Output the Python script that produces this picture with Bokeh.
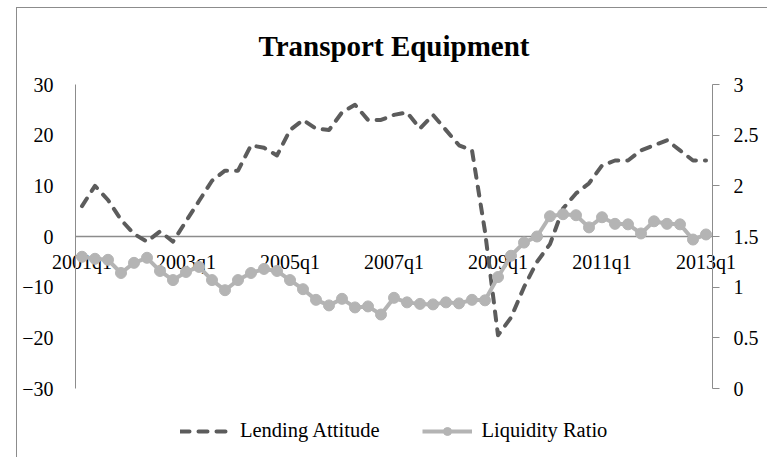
from bokeh.plotting import figure
from bokeh.models import (Range1d, LinearAxis, FixedTicker, NumeralTickFormatter, Span,
                          Legend, LegendItem, ColumnDataSource)
from bokeh.core.properties import value
from bokeh.embed import file_html
from bokeh.resources import INLINE

# ---- data ----
title_text = "Transport Equipment"
quarters = [f"{y}q{q}" for y in range(2001, 2014) for q in range(1, 5)][:49]
lending_attitude = [6, 10, 7.2, 3.3, 0.5, -1, 1, -1, 3, 7, 11, 13, 13, 18, 17.5, 16, 21, 23,
                    21.3, 21, 24.5, 26, 23, 23, 24, 24.5, 21.3, 24, 21, 18, 17, 1, -19.5,
                    -16, -10, -5, -1.5, 5.5, 8.5, 10.5, 14, 15, 15, 17, 18, 19, 17, 15, 15]
liquidity_ratio = [1.30, 1.28, 1.27, 1.14, 1.24, 1.29, 1.16, 1.07, 1.15, 1.20, 1.07, 0.97,
                   1.07, 1.14, 1.18, 1.16, 1.07, 0.98, 0.875, 0.82, 0.885, 0.80, 0.81, 0.73,
                   0.895, 0.85, 0.835, 0.83, 0.85, 0.84, 0.875, 0.87, 1.10, 1.31, 1.44, 1.50,
                   1.70, 1.72, 1.71, 1.59, 1.69, 1.625, 1.62, 1.53, 1.65, 1.625, 1.62, 1.47, 1.52]
tick_labels = ["2001q1", "2003q1", "2005q1", "2007q1", "2009q1", "2011q1", "2013q1"]
left_ticks = [-30, -20, -10, 0, 10, 20, 30]
right_ticks = [0, 0.5, 1, 1.5, 2, 2.5, 3]
left_lim = (-30, 30)
right_lim = (0, 3)

FONT = "Liberation Serif"
DARK = "#5c5c5c"
LIGHT = "#b4b4b4"
AXIS = "#8c8c8c"

# ---- layout geometry (pixels) ----
W, H = 751, 450
ML, MT, MB = 58, 2, 2
AXIS_TOP = 76                   # canvas y of the axes' top end
AXIS_H = 304                    # pixel height of the axes span
TITLE_MID = 37                  # canvas y of the title's middle
frame_h = H - MT - MB
top_px = AXIS_TOP - MT
bot_px = frame_h - AXIS_H - top_px


def ext_range(lim):
    span = lim[1] - lim[0]
    return Range1d(lim[0] - span * bot_px / AXIS_H, lim[1] + span * top_px / AXIS_H)


left_range = ext_range(left_lim)
right_range = ext_range(right_lim)
title_y = left_lim[1] + (left_lim[1] - left_lim[0]) * (AXIS_TOP - TITLE_MID) / AXIS_H

idx = list(range(len(quarters)))
src = ColumnDataSource(dict(x=idx, q=quarters, la=lending_attitude, lr=liquidity_ratio))

p = figure(width=W, height=H, output_backend="svg", toolbar_location=None,
           x_range=Range1d(-0.5, len(quarters) - 0.5), y_range=left_range,
           x_axis_location=None, min_border_left=ML, min_border_right=W - ML - 637,
           min_border_top=MT, min_border_bottom=MB)
p.styles = {"margin-left": "16px", "margin-top": "7px",
            "border-left": "1px solid #8c8c8c", "border-top": "1px solid #8c8c8c"}
p.extra_y_ranges = {"liq": right_range}
p.grid.grid_line_color = None
p.outline_line_color = None

# title
tt = p.text(x=[(len(quarters) - 1) / 2], y=[title_y], text=[title_text],
            text_font=value(FONT), text_font_size=value("29px"), text_font_style="bold",
            text_align="center", text_baseline="middle", text_color="black")
tt.level = "annotation"

# left axis
ya = p.yaxis[0]
ya.ticker = FixedTicker(ticks=left_ticks)
ya.bounds = left_lim
ya.axis_line_color = AXIS
ya.major_tick_line_color = None
ya.minor_tick_line_color = None
ya.major_label_standoff = 16
ya.major_label_text_font = FONT
ya.major_label_text_font_size = "20px"
ya.major_label_text_color = "black"

# right axis
ra = LinearAxis(y_range_name="liq", ticker=FixedTicker(ticks=right_ticks),
                formatter=NumeralTickFormatter(format="0.[0]"), bounds=right_lim)
ra.axis_line_color = AXIS
ra.major_tick_line_color = AXIS
ra.major_tick_in = 0
ra.major_tick_out = 7
ra.minor_tick_line_color = None
ra.major_label_standoff = 14
ra.major_label_text_font = FONT
ra.major_label_text_font_size = "20px"
ra.major_label_text_color = "black"
p.add_layout(ra, "right")

# category axis line at zero
zero = Span(location=0, dimension="width", line_color=AXIS, line_width=1.3)
zero.level = "underlay"
p.add_layout(zero)

# category labels
lab_x = [quarters.index(t) for t in tick_labels]
lab_src = ColumnDataSource(dict(x=lab_x, y=[0] * len(lab_x), t=tick_labels))
tr = p.text(x="x", y="y", text="t", source=lab_src, text_font=value(FONT),
            text_font_size=value("20px"), text_align="center", text_baseline="top",
            y_offset=14, text_color="black")
tr.level = "guide"

# series
r1 = p.line("x", "la", source=src, line_color=DARK, line_width=4, line_dash="9 9",
            line_cap="round", line_join="round")
r1.level = "annotation"
r2 = p.line("x", "lr", source=src, y_range_name="liq", line_color=LIGHT, line_width=4,
            line_join="round")
r2.level = "annotation"
r3 = p.scatter("x", "lr", source=src, y_range_name="liq", size=11, fill_color=LIGHT,
               line_color=LIGHT)
r3.level = "annotation"

legend = Legend(items=[LegendItem(label="Lending Attitude", renderers=[r1]),
                       LegendItem(label="Liquidity Ratio", renderers=[r2, r3])],
                location=(105, 14), orientation="horizontal")
legend.label_text_font = FONT
legend.label_text_font_size = "20.5px"
legend.label_text_color = "black"
legend.glyph_width = 50
legend.glyph_height = 20
legend.label_height = 20
legend.label_standoff = 10
legend.spacing = 42
legend.padding = 0
legend.margin = 0
legend.border_line_color = None
legend.background_fill_alpha = 0
p.add_layout(legend)

open("out.html", "w").write(file_html(p, INLINE))
